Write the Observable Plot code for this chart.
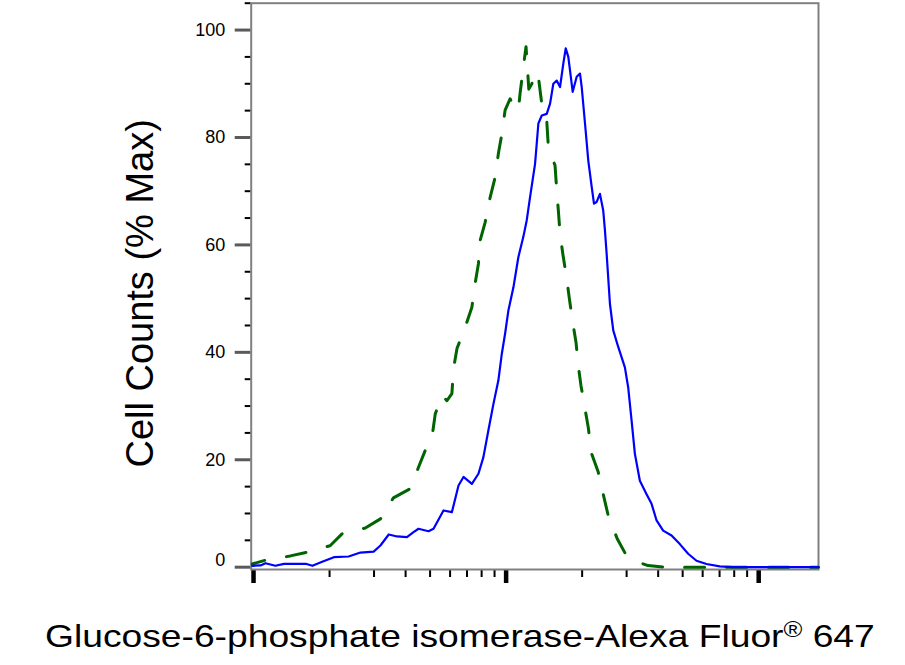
<!DOCTYPE html>
<html><head><meta charset="utf-8">
<script src="https://cdn.jsdelivr.net/npm/d3@7"></script>
<script src="https://cdn.jsdelivr.net/npm/@observablehq/plot@0.6"></script>
<style>
body{margin:0;background:#fff;}
#chart{width:905px;height:600px;}
#xtitle{font-family:"Liberation Sans",Arial,sans-serif;font-size:32px;line-height:40px;white-space:nowrap;padding-left:45px;margin-top:15.6px;transform-origin:45px 0;transform:scaleX(1.163);color:#000;}
#xtitle sup{font-size:22px;line-height:0;vertical-align:10px;}
</style></head><body>
<div id="chart"></div>
<div id="xtitle"></div>
<script>
const yTitle = "Cell Counts (% Max)";
const xTitleMain = "Glucose-6-phosphate isomerase-Alexa Fluor";
const xTitleSup = "®";
const xTitleEnd = " 647";

const yLabelTicks = [20, 40, 60, 80, 100];
const yZeroTick = [0];
const yMinorTicks = [5, 10, 15, 25, 30, 35, 45, 50, 55, 65, 70, 75, 85, 90, 95, 105];
const xMajorTicks = [100, 1000, 10000];
const xMinorTicks = [200, 300, 400, 500, 600, 700, 800, 900, 2000, 3000, 4000, 5000, 6000, 7000, 8000, 9000];

const blueX = [98.8, 106.6, 111.5, 122, 132, 161, 171, 187, 208, 238, 265, 299, 318, 343, 370, 405, 430, 450, 493, 516, 565, 610, 648, 678, 732, 777, 813, 851, 891, 932, 960, 991, 1021, 1069, 1118, 1170, 1207, 1244, 1302, 1342, 1384, 1448, 1493, 1538, 1586, 1635, 1685, 1722, 1763, 1835, 1903, 1961, 1992, 2053, 2115, 2182, 2228, 2283, 2352, 2424, 2462, 2500, 2577, 2656, 2779, 2953, 3043, 3139, 3235, 3385, 3598, 3766, 3942, 4185, 4519, 4873, 5256, 5673, 6214, 7014, 7894, 17250];
const blueY = [0.26, 0.32, 0.74, 0.26, 0.63, 0.63, 0.26, 1.0, 1.86, 1.99, 2.72, 2.91, 4.04, 6.09, 5.72, 5.59, 6.52, 7.15, 6.7, 7.15, 10.56, 10.24, 15.2, 16.8, 15.5, 17.4, 20.5, 25.5, 30.4, 34.8, 39.5, 43.5, 47.8, 52.1, 57.7, 61.5, 64.6, 68.9, 75.1, 82.6, 84.1, 84.4, 86.3, 90.0, 90.6, 89.4, 93.8, 96.6, 95.0, 88.5, 91.3, 91.9, 89.4, 82.6, 75.7, 70.8, 67.7, 68.0, 69.5, 66.4, 62.7, 58.4, 49.0, 44.1, 41.0, 37.2, 33.5, 27.3, 21.1, 16.1, 13.6, 11.8, 8.7, 6.8, 5.9, 4.3, 2.5, 1.2, 0.6, 0.15, 0, 0];

const greenX = [98.8, 111.5, 140, 163, 201, 224, 277, 318, 358, 417, 450, 478, 510, 524, 557, 583, 610, 619, 639, 689, 732, 754, 777, 789, 826, 865, 905, 932, 962, 991, 1037, 1085, 1118, 1136, 1170, 1199, 1230, 1264, 1302, 1342, 1384, 1448, 1470, 1562, 1586, 1610, 1635, 1676, 1738, 1780, 1835, 1891, 1931, 1979, 2053, 2115, 2182, 2316, 2440, 2537, 2754, 3000, 3295, 3651, 4251, 17250];
const greenY = [0.6, 1.3, 2.1, 2.8, 4.0, 6.2, 7.3, 9.0, 12.9, 14.6, 18.6, 21.7, 24.5, 28.5, 32.0, 31.0, 32.3, 36.9, 40.7, 44.7, 48.4, 52.8, 56.5, 60.8, 64.2, 68.9, 72.6, 77.0, 80.7, 85.1, 87.2, 85.4, 85.1, 88.2, 93.1, 96.9, 89.0, 90.0, 92.2, 91.3, 86.3, 83.2, 78.2, 74.8, 70.2, 66.4, 62.1, 58.4, 53.7, 50.0, 45.6, 41.9, 37.5, 33.8, 29.5, 26.0, 21.1, 17.7, 13.0, 9.6, 5.3, 2.1, 1.0, 0.3, 0, 0];

const blue = blueX.map((x, i) => ({x, y: blueY[i]}));
const green = greenX.map((x, i) => ({x, y: greenY[i]}));
const blank = () => "";

const plot = Plot.plot({
  width: 905,
  height: 600,
  marginLeft: 250.7,
  marginRight: 87,
  marginTop: 2.7,
  marginBottom: 31,
  style: {fontFamily: "'Liberation Sans', Arial, sans-serif", background: "#fff", color: "#000"},
  x: {type: "log", domain: [97.9, 17250], axis: null},
  y: {domain: [-0.43, 105], axis: null},
  marks: [
    Plot.axisY({ticks: yMinorTicks, tickSize: 6, strokeWidth: 2, stroke: "#000", tickFormat: blank, label: null}),
    Plot.axisY({ticks: [...yZeroTick, ...yLabelTicks], tickSize: 16, strokeWidth: 3, stroke: "#5a5a5a", tickFormat: blank, label: null}),
    Plot.axisY({ticks: yLabelTicks, tickSize: 0, tickPadding: 26, fontSize: 18, label: null}),
    Plot.axisY({ticks: yZeroTick, tickSize: 0, tickPadding: 26, fontSize: 18, dy: -7, label: null}),
    Plot.axisX({ticks: xMinorTicks, tickSize: 8, strokeWidth: 2, stroke: "#000", tickFormat: blank, label: null}),
    Plot.axisX({ticks: xMajorTicks, tickSize: 14, strokeWidth: 4.5, stroke: "#000", tickFormat: blank, label: null}),
    Plot.frame({stroke: "#808080", strokeWidth: 2}),
    Plot.line(green, {x: "x", y: "y", stroke: "#006400", strokeWidth: 3, strokeDasharray: "20,22", strokeDashoffset: 7}),
    Plot.line(blue, {x: "x", y: "y", stroke: "#0000ff", strokeWidth: 2.2}),
    Plot.text([yTitle], {text: d => d, frameAnchor: "left", textAnchor: "middle", rotate: -90, dx: -110, dy: 7, fontSize: 38, fill: "#000"})
  ]
});
document.getElementById("chart").appendChild(plot);

const xt = document.getElementById("xtitle");
xt.appendChild(document.createTextNode(xTitleMain));
const sup = document.createElement("sup");
sup.textContent = xTitleSup;
xt.appendChild(sup);
xt.appendChild(document.createTextNode(xTitleEnd));
</script>
</body></html>
